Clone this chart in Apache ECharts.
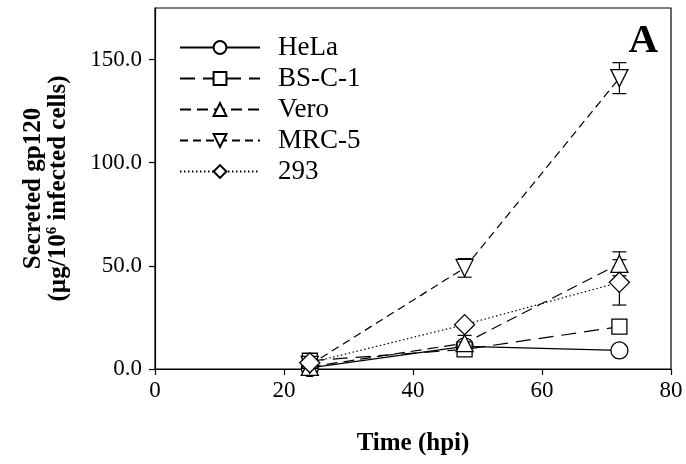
<!DOCTYPE html>
<html>
<head>
<meta charset="utf-8">
<script src="https://cdn.jsdelivr.net/npm/echarts@6/dist/echarts.min.js"></script>
<style>
  html, body { margin: 0; padding: 0; background: #fff; }
  #chart { width: 686px; height: 464px; }
</style>
</head>
<body>
<div id="chart"></div>
<script>
// Data (time in hpi, gp120 in µg/10^6 cells)
const hours = [24, 48, 72];
const helaVals = [0.5, 11, 9];
const bscVals = [4, 9.5, 20.5];
const veroVals = [1, 12.5, 51];
const mrcVals = [2, 49, 141];
const cells293Vals = [3, 21.5, 42];

// error bar half-widths
const veroErr = [0, 3.8, 5.8];
const mrcErr = [0, 4.5, 7.5];
const err293 = [0, 0, 11];

const xTicks = [0, 20, 40, 60, 80];
const yTicks = [0, 50, 100, 150];

const FONT = '"Liberation Serif", "Times New Roman", serif';

const pairs = vals => hours.map((h, i) => [h, vals[i]]);
const errData = (vals, errs) => hours.map((h, i) => [h, vals[i] - errs[i], vals[i] + errs[i]])
  .filter((d, i) => errs[i] > 0);

const errorSeries = (name, vals, errs) => ({
  type: 'custom',
  name: name + '-err',
  z: 1,
  silent: true,
  data: errData(vals, errs),
  renderItem: (params, api) => {
    const lo = api.coord([api.value(0), api.value(1)]);
    const hi = api.coord([api.value(0), api.value(2)]);
    const w = 7;
    const st = { stroke: '#000', lineWidth: 1.2 };
    return {
      type: 'group',
      children: [
        { type: 'line', shape: { x1: lo[0], y1: lo[1], x2: hi[0], y2: hi[1] }, style: st },
        { type: 'line', shape: { x1: lo[0] - w, y1: lo[1], x2: lo[0] + w, y2: lo[1] }, style: st },
        { type: 'line', shape: { x1: hi[0] - w, y1: hi[1], x2: hi[0] + w, y2: hi[1] }, style: st }
      ]
    };
  }
});

const sizes = { circle: 17, rect: 15, triangle: 17, diamond: 20 };

const lineSeries = (name, vals, symbol, dash, rotate) => ({
  name: name,
  type: 'line',
  data: pairs(vals),
  symbol: symbol,
  symbolSize: sizes[symbol],
  symbolRotate: rotate || 0,
  z: 3,
  lineStyle: { color: '#000', width: 1.2, type: dash },
  itemStyle: { color: '#fff', borderColor: '#000', borderWidth: 1.3 }
});

const chart = echarts.init(document.getElementById('chart'));
chart.setOption({
  animation: false,
  textStyle: { fontFamily: FONT, color: '#000' },
  grid: { left: 155, right: 15, top: 8, bottom: 95, show: true, borderColor: '#000', borderWidth: 1.2 },
  legend: {
    orient: 'vertical',
    left: 174,
    top: 29,
    itemWidth: 80,
    itemHeight: 16,
    itemGap: 4,
    textStyle: { fontFamily: FONT, fontSize: 27, lineHeight: 27, color: '#000', padding: [0, 0, 0, 13] },
    data: ['HeLa', 'BS-C-1', 'Vero', 'MRC-5', '293']
  },
  xAxis: {
    type: 'value',
    min: 0,
    max: 80,
    interval: 20,
    name: 'Time (hpi)',
    nameLocation: 'middle',
    nameGap: 62,
    nameTextStyle: { fontFamily: FONT, fontSize: 25, fontWeight: 'bold', color: '#000' },
    axisLine: { lineStyle: { color: '#000', width: 1.2 } },
    axisTick: { inside: false, length: 6, lineStyle: { color: '#000', width: 1.2 } },
    axisLabel: { fontFamily: FONT, fontSize: 23, color: '#000', margin: 10 },
    splitLine: { show: false }
  },
  yAxis: {
    type: 'value',
    min: 0,
    max: 175,
    interval: 50,
    name: 'Secreted gp120\n(µg/10{sup|6} infected cells)',
    nameLocation: 'middle',
    nameGap: 84,
    nameRotate: 90,
    nameTextStyle: {
      fontFamily: FONT, fontSize: 25, fontWeight: 'bold', color: '#000', lineHeight: 25,
      rich: {
        sup: { fontFamily: FONT, fontSize: 15, fontWeight: 'bold', color: '#000', padding: [0, 0, 12, 0] }
      }
    },
    axisLine: { show: true, lineStyle: { color: '#000', width: 1.2 } },
    axisTick: { show: true, inside: false, length: 6, customValues: yTicks, lineStyle: { color: '#000', width: 1.2 } },
    axisLabel: {
      fontFamily: FONT, fontSize: 23, color: '#000', margin: 13,
      customValues: yTicks,
      formatter: v => v.toFixed(1)
    },
    splitLine: { show: false }
  },
  graphic: [
    { type: 'text', right: 28, top: 21, style: { text: 'A', fontFamily: FONT, fontSize: 41, fontWeight: 'bold', fill: '#000' } }
  ],
  series: [
    errorSeries('Vero', veroVals, veroErr),
    errorSeries('MRC-5', mrcVals, mrcErr),
    errorSeries('293', cells293Vals, err293),
    lineSeries('HeLa', helaVals, 'circle', 'solid'),
    lineSeries('BS-C-1', bscVals, 'rect', [15, 8]),
    lineSeries('Vero', veroVals, 'triangle', [11, 6]),
    lineSeries('MRC-5', mrcVals, 'triangle', [8, 5], 180),
    lineSeries('293', cells293Vals, 'diamond', [1.5, 2.5])
  ]
});
</script>
</body>
</html>
